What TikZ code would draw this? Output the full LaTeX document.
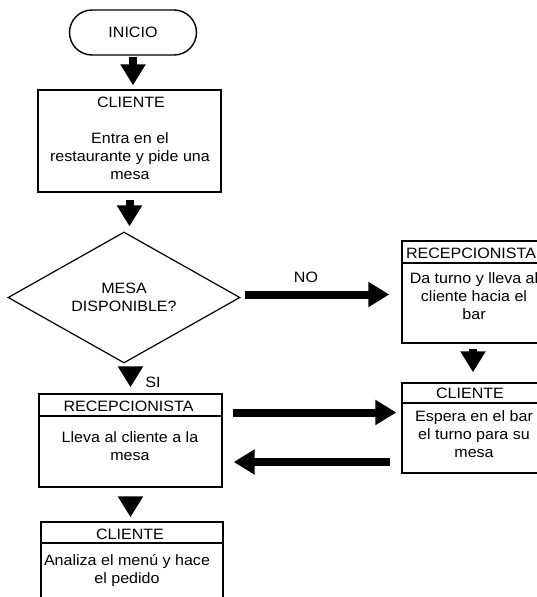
\documentclass[tikz,border=0pt]{standalone}
\usepackage{fontspec}
\setmainfont{Liberation Sans}[FakeStretch=1.07]
\usetikzlibrary{positioning,shapes.geometric,shapes.misc,arrows.meta}

\tikzset{
  box/.style={draw, rectangle, line width=1.4pt, inner sep=0pt},
  term/.style={draw, rounded rectangle, line width=1.4pt, inner sep=0pt,
    minimum width=127pt, minimum height=45pt},
  decision/.style={draw, diamond, aspect=1.77, line width=1.2pt, inner sep=0pt,
    minimum width=232pt, minimum height=131pt, align=center},
  txt/.style={inner sep=0pt, align=center},
  flow/.style={line width=8pt, -{Triangle[length=21pt,width=24pt]}},
  sep/.style={line width=1.2pt},
}

\begin{document}
\begin{tikzpicture}[x=1pt, y=-1pt, font=\fontsize{15}{18}\selectfont]
      \useasboundingbox (0,0) rectangle (536,597);
      % left column
      \node[term] (start) at (133,32.5) {INICIO};
      \node[box, minimum width=183pt, minimum height=102pt] (cli1) at (129.5,141) {};
      \node[txt, anchor=base] (cli1h) at (131,107) {CLIENTE};
      \node[txt] (cli1b) at (130,156.5) {Entra en el\\restaurante y pide una\\mesa};
      \node[decision] (mesa) at (124,297.5) {MESA\\DISPONIBLE?};
      \node[box, minimum width=183pt, minimum height=93pt] (rec1) at (130.5,440.5) {};
      \node[txt, anchor=base] (rec1h) at (128.5,411) {RECEPCIONISTA};
      \node[txt] (rec1b) at (130,446) {Lleva al cliente a la\\mesa};
      \node[box, minimum width=182pt, minimum height=110pt] (cli3) at (132,577) {};
      \node[txt, anchor=base] (cli3h) at (130,539) {CLIENTE};
      \node[txt] (cli3b) at (127,571) {Analiza el menú y hace\\el pedido};
      % right column
      \node[box, minimum width=142pt, minimum height=102pt] (rec2) at (473,292) {};
      \node[txt, anchor=base] (rec2h) at (471,258) {RECEPCIONISTA};
      \node[txt] (rec2b) at (474,296.5) {Da turno y lleva al\\cliente hacia el\\bar};
      \node[box, minimum width=142pt, minimum height=90pt] (cli2) at (473,428) {};
      \node[txt, anchor=base] (cli2h) at (470,398) {CLIENTE};
      \node[txt] (cli2b) at (474,434) {Espera en el bar\\el turno para su\\mesa};
      % labels
      \node[txt, anchor=base] (no) at (306,282) {NO};
      \node[txt, anchor=base] (si) at (153,387) {SI};
      % header lines
      \draw[sep] (rec1.west |- 0,416) -- (rec1.east |- 0,416);
      \draw[sep] (cli3.west |- 0,543) -- (cli3.east |- 0,543);
      \draw[sep] (rec2.west |- 0,263) -- (rec2.east |- 0,263);
      \draw[sep] (cli2.west |- 0,403) -- (cli2.east |- 0,403);
      \begin{scope}[flow]
        \draw[shorten <=1pt, shorten >=4pt] (start.south) to (start.south |- cli1.north);
        \draw[shorten <=7pt, shorten >=5pt] (cli1.south) to (cli1.south |- mesa.north);
        \draw[shorten <=4pt, shorten >=12pt] ([yshift=3pt]mesa.east) to ([yshift=3pt]mesa.east -| rec2.west);
        \draw[shorten <=3pt, shorten >=6pt] (mesa.south -| rec1.north) to (rec1.north);
        \draw[shorten <=5pt, shorten >=10pt] (rec2.south) to (cli2.north);
        \draw[shorten <=10pt, shorten >=5pt] ([yshift=28pt]rec1.east) to ([yshift=28pt]rec1.east -| cli2.west);
        \draw[shorten <=11pt, shorten >=11pt] ([yshift=-34pt]cli2.west) to ([yshift=-34pt]cli2.west -| rec1.east);
        \draw[shorten <=10pt, shorten >=4pt] (rec1.south) to (rec1.south |- cli3.north);
      \end{scope}
\end{tikzpicture}
\end{document}
